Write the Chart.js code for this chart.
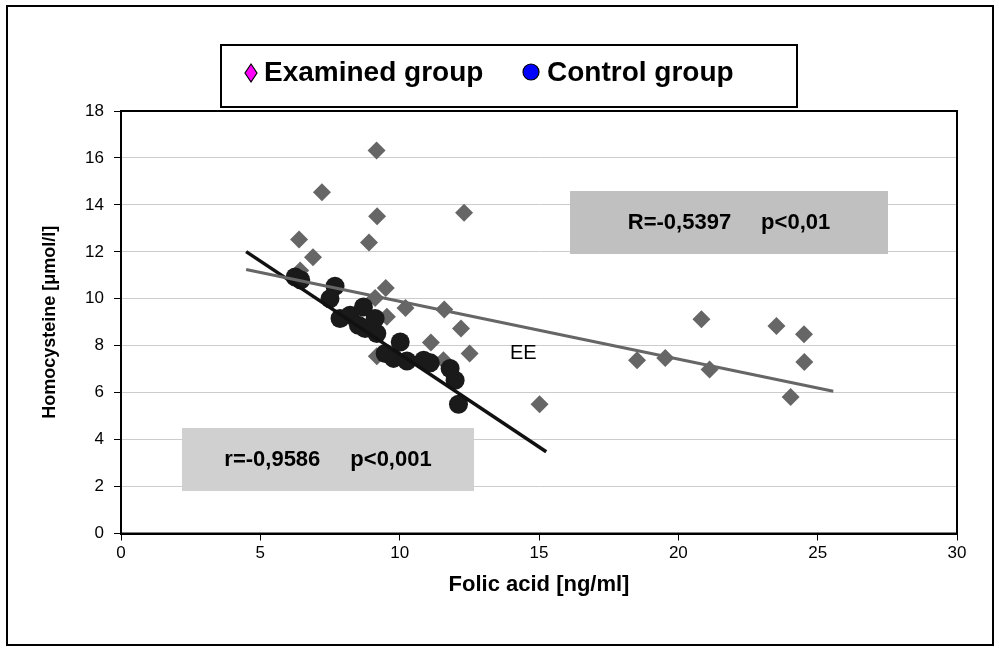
<!DOCTYPE html>
<html>
<head>
<meta charset="utf-8">
<script src="https://cdn.jsdelivr.net/npm/chart.js@4"></script>
<style>
  html, body { margin: 0; padding: 0; background: #fff; }
  #wrap { width: 999px; height: 650px; }
</style>
</head>
<body>
<div id="wrap"><canvas id="chart" width="999" height="650"></canvas></div>
<script>
// Examined group (grey diamonds)
const examinedX = [9.17, 7.21, 9.19, 12.31, 6.39, 8.9, 6.89, 6.43, 9.5, 9.12, 9.54, 10.21, 11.6, 12.2, 11.12, 12.51, 9.18, 11.57, 15.02,
                   18.52, 19.53, 20.83, 21.12, 23.52, 24.51, 24.52, 24.03];
const examinedY = [16.32, 14.54, 13.52, 13.67, 12.53, 12.4, 11.77, 11.21, 10.46, 10.03, 9.23, 9.61, 9.54, 8.73, 8.14, 7.67, 7.55, 7.38, 5.51,
                   7.38, 7.48, 9.13, 6.99, 8.84, 8.49, 7.31, 5.82];

// Control group (black circles)
const controlX = [6.25, 6.45, 7.68, 7.5, 7.86, 8.22, 8.7, 8.52, 8.76, 9.12, 9.18, 10.02, 9.48, 9.78, 10.26, 10.86, 11.1, 11.81, 11.99, 12.11];
const controlY = [10.93, 10.8, 10.53, 10.0, 9.16, 9.3, 9.65, 8.87, 8.73, 9.16, 8.52, 8.16, 7.67, 7.46, 7.35, 7.38, 7.27, 7.03, 6.53, 5.51];

// Trend lines (end points)
const examinedTrendX = [4.49, 25.56];
const examinedTrendY = [11.25, 6.06];
const controlTrendX = [4.49, 15.26];
const controlTrendY = [12.01, 3.48];

const legendLabels = ['Examined group', 'Control group'];
const statExamined = ['R=-0,5397', 'p<0,01'];
const statControl = ['r=-0,9586', 'p<0,001'];

const FONT = "'Liberation Sans', Arial, sans-serif";

function toPoints(xs, ys) {
    return xs.map((x, i) => ({ x: x, y: ys[i] }));
}

function statBox(ctx, x, y, w, h, fill, parts) {
    ctx.save();
    ctx.fillStyle = fill;
    ctx.fillRect(x, y, w, h);
    ctx.font = 'bold 22px ' + FONT;
    ctx.fillStyle = '#000';
    ctx.textBaseline = 'middle';
    const gap = 30;
    const w1 = ctx.measureText(parts[0]).width;
    const w2 = ctx.measureText(parts[1]).width;
    let sx = x + w / 2 - (w1 + gap + w2) / 2;
    ctx.fillText(parts[0], sx, y + h / 2);
    ctx.fillText(parts[1], sx + w1 + gap, y + h / 2);
    ctx.restore();
}

const decorations = {
    id: 'decorations',
    beforeDatasetsDraw(chart) {
        const ctx = chart.ctx;
        statBox(ctx, 570, 191, 318, 63, '#c0c0c0', statExamined);
        statBox(ctx, 182, 428, 292, 63, '#d0d0d0', statControl);
    },
    afterDraw(chart) {
        const ctx = chart.ctx;
        const a = chart.chartArea;
        ctx.save();
        // plot area border
        ctx.strokeStyle = '#000';
        ctx.lineWidth = 2;
        ctx.strokeRect(a.left, a.top, a.right - a.left, a.bottom - a.top);

        // outer frame
        ctx.strokeRect(7, 6, 986, 639);

        // legend box
        ctx.fillStyle = '#fff';
        ctx.fillRect(221, 45, 576, 62);
        ctx.strokeRect(221, 45, 576, 62);

        // legend markers
        ctx.lineWidth = 1.2;
        ctx.beginPath();
        ctx.moveTo(251, 64); ctx.lineTo(257, 73); ctx.lineTo(251, 82); ctx.lineTo(245, 73); ctx.closePath();
        ctx.fillStyle = '#ff00ff';
        ctx.fill(); ctx.stroke();

        ctx.beginPath();
        ctx.arc(531, 72, 8, 0, Math.PI * 2);
        ctx.fillStyle = '#0000ff';
        ctx.fill(); ctx.stroke();

        ctx.fillStyle = '#000';
        ctx.font = 'bold 28px ' + FONT;
        ctx.textBaseline = 'alphabetic';
        ctx.fillText(legendLabels[0], 264, 81);
        ctx.fillText(legendLabels[1], 547, 81);

        // EE note
        ctx.font = '20px ' + FONT;
        ctx.textBaseline = 'middle';
        ctx.fillText('EE', 510, 353);
        ctx.restore();
    }
};

new Chart(document.getElementById('chart').getContext('2d'), {
    type: 'scatter',
    data: {
        datasets: [
            {
                label: legendLabels[0],
                data: toPoints(examinedX, examinedY),
                pointStyle: 'rectRot',
                pointRadius: 9,
                pointHoverRadius: 9,
                backgroundColor: '#666666',
                borderWidth: 0,
                order: 4
            },
            {
                label: legendLabels[1],
                data: toPoints(controlX, controlY),
                pointStyle: 'circle',
                pointRadius: 9.5,
                pointHoverRadius: 9.5,
                backgroundColor: '#1a1a1a',
                borderWidth: 0,
                order: 3
            },
            {
                type: 'line',
                data: toPoints(controlTrendX, controlTrendY),
                borderColor: '#111111',
                borderWidth: 3.5,
                pointRadius: 0,
                fill: false,
                order: 2
            },
            {
                type: 'line',
                data: toPoints(examinedTrendX, examinedTrendY),
                borderColor: '#666666',
                borderWidth: 3,
                pointRadius: 0,
                fill: false,
                order: 1
            }
        ]
    },
    options: {
        responsive: false,
        animation: false,
        layout: { padding: { left: 35, top: 111, right: 42, bottom: 48 } },
        plugins: {
            legend: { display: false },
            tooltip: { enabled: false }
        },
        scales: {
            x: {
                type: 'linear',
                min: 0,
                max: 30,
                afterFit: s => { s.height = 68.5; },
                ticks: { stepSize: 5, color: '#000', font: { family: FONT, size: 17 }, padding: 3 },
                grid: { drawOnChartArea: false, tickLength: 7, tickColor: '#000' },
                border: { color: '#000', width: 2 },
                title: { display: true, text: 'Folic acid [ng/ml]', color: '#000', font: { family: FONT, size: 22, weight: 'bold' } }
            },
            y: {
                min: 0,
                max: 18,
                afterFit: s => { s.width = 86; },
                ticks: { stepSize: 2, color: '#000', font: { family: FONT, size: 17 }, padding: 10 },
                grid: { color: '#cccccc', lineWidth: 1, tickLength: 7, tickColor: '#000' },
                border: { color: '#000', width: 2 },
                title: { display: true, text: 'Homocysteine [μmol/l]', color: '#000', font: { family: FONT, size: 18, weight: 'bold' } }
            }
        }
    },
    plugins: [decorations]
});
</script>
</body>
</html>
